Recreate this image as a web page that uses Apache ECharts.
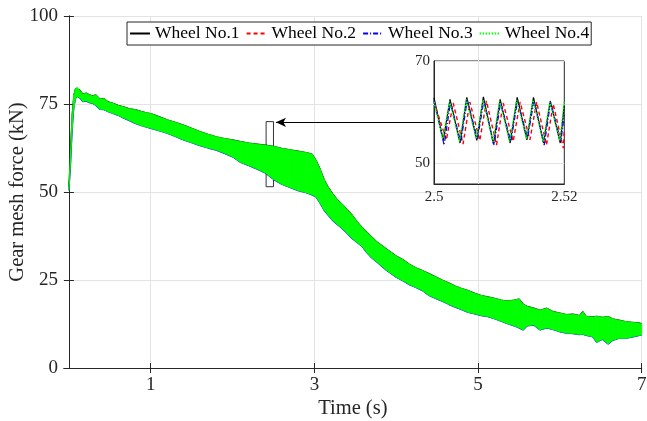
<!DOCTYPE html>
<html>
<head>
<meta charset="utf-8">
<script src="https://cdn.jsdelivr.net/npm/echarts@6.0.0/dist/echarts.min.js"></script>
<style>
html,body{margin:0;padding:0;background:#fff;}
#main{width:647px;height:421px;}
</style>
</head>
<body>
<div id="main"></div>
<script>
// envelope of the dense oscillating traces
var envT = [0,0.02,0.04,0.06,0.08,0.10,0.13,0.17,0.21,0.25,0.29,0.33,0.38,0.43,0.48,0.54,0.60,0.67,0.74,0.81,0.88,0.95,1.0,1.1,1.2,1.3,1.4,1.5,1.6,1.7,1.8,1.9,2.0,2.1,2.2,2.3,2.4,2.5,2.6,2.7,2.8,2.9,2.97,3.02,3.07,3.12,3.17,3.22,3.28,3.34,3.40,3.46,3.52,3.58,3.64,3.70,3.76,3.82,3.88,3.94,4.0,4.08,4.16,4.24,4.32,4.40,4.48,4.56,4.64,4.72,4.80,4.88,4.96,5.04,5.12,5.20,5.28,5.36,5.44,5.50,5.55,5.60,5.68,5.76,5.84,5.92,6.0,6.08,6.16,6.24,6.28,6.32,6.40,6.45,6.52,6.59,6.64,6.72,6.80,6.88,6.96,7.0];
var envUpper = [51.5,62,72,77.5,79.3,79.7,79,77.8,78.1,77.6,77.3,77.6,76.4,76.5,75.6,75.2,74.6,74.2,73.6,73.4,72.9,72.5,72.3,71.4,70.5,69.8,69.0,68.1,67.2,66.4,65.7,65.2,64.8,64.3,63.9,63.6,63.3,63.0,62.4,62.0,61.6,61.2,60.8,59.0,56.5,53.5,51.3,49.6,47.8,46.5,45.0,43.5,41.6,40.0,38.6,37.2,35.9,34.9,33.8,32.8,31.8,30.8,29.5,28.5,27.7,26.8,25.9,25.0,24.2,23.3,22.6,22.0,21.2,20.6,20.2,19.8,19.3,19.0,19.3,19.6,18.2,17.5,17.0,16.4,17.0,16.0,15.6,15.2,15.3,14.9,16.0,14.7,14.5,14.7,14.4,14.6,14.0,13.6,13.2,13.0,12.8,12.6];
var envLower = [50.5,58,68,74,76.5,77.2,76.8,75.7,75.9,75.4,75.2,74.6,73.5,73.4,72.8,72.3,71.8,71.0,70.3,69.5,68.9,68.4,68.1,67.4,66.7,65.8,64.8,64.0,63.2,62.5,61.9,61.0,60.0,58.4,57.5,56.5,55.4,53.6,52.2,51.3,50.4,49.8,49.2,48.6,46.8,44.8,43.4,42.0,40.8,39.6,38.3,36.8,35.7,34.6,32.8,31.3,30.2,29.0,27.8,26.8,25.8,24.8,23.7,22.9,22.0,20.6,19.8,19.0,18.1,17.3,16.6,15.8,15.4,14.9,14.6,14.0,13.3,12.6,12.0,11.4,10.8,12.0,12.2,10.8,11.4,10.9,10.3,9.9,9.8,9.5,9.6,9.3,8.9,7.3,8.2,6.8,7.8,8.4,8.4,8.8,9.2,9.4];

// zoomed window 2.5 - 2.52 s
var w1T = [2.5,2.50143,2.50246,2.5040,2.50503,2.50657,2.50758,2.50912,2.51015,2.51169,2.51277,2.51426,2.51527,2.51681,2.51784,2.51938,2.52];
var w1F = [62.8,54.5,62.5,54.0,62.9,54.5,63.0,53.8,62.5,54.0,62.9,54.6,62.9,54.0,62.2,54.0,61.5];
var w2T = [2.5,2.50190,2.50295,2.50446,2.50550,2.50703,2.50805,2.50960,2.51062,2.51215,2.51322,2.51472,2.51575,2.51727,2.51830,2.51985,2.52];
var w2F = [62.0,54.6,61.8,53.8,62.0,54.5,62.2,53.6,61.8,54.3,62.0,54.6,62.0,53.6,61.6,53.0,56.5];
var w3T = [2.5,2.50155,2.50252,2.50412,2.50510,2.50668,2.50765,2.50922,2.51022,2.51180,2.51282,2.51437,2.51535,2.51692,2.51790,2.51948,2.52];
var w3F = [62.3,53.6,61.8,54.2,62.3,54.8,62.3,53.6,61.9,54.3,62.2,55.0,62.3,53.6,61.9,54.3,59.5];
var w4T = [2.5,2.50135,2.50240,2.50392,2.50496,2.50650,2.50752,2.50905,2.51008,2.51162,2.51270,2.51420,2.51520,2.51675,2.51778,2.51932,2.52];
var w4F = [62.0,54.8,62.1,54.3,62.5,54.8,62.4,54.2,62.2,54.3,62.4,54.8,62.4,54.3,62.0,54.5,62.2];

var names = ['Wheel No.1','Wheel No.2','Wheel No.3','Wheel No.4'];
var xTicks = [1,3,5,7];
var insetXTicks = [2.5,2.52];
var insetYTicks = [50,70];
// box drawn round the zoomed window, and start of the pointing arrow
var boxT = [2.41,2.50];
var boxF = [51.5,70];
var arrowFrom = [4.46,69.8];

var font = 'Liberation Serif';
var ink = '#262626';

function pairs(xs,ys){
	var out=[];
	for(var i=0;i<xs.length;i++){
		out.push([xs[i],ys[i]]);
	}
	return out;
}

var envData=[];
for(var i=0;i<envT.length;i++){
	envData.push([envT[i],envUpper[i],envLower[i]]);
}

// one filled quad between neighbouring envelope samples
function renderBand(params,api){
	var i=params.dataIndexInside;
	if(i>=params.dataInsideLength-1){
		return null;
	}
	var a=api.coord([api.value(0,i),api.value(1,i)]);
	var b=api.coord([api.value(0,i+1),api.value(1,i+1)]);
	var c=api.coord([api.value(0,i+1),api.value(2,i+1)]);
	var d=api.coord([api.value(0,i),api.value(2,i)]);
	return {
		type:'polygon',
		shape:{points:[a,b,c,d]},
		style:{fill:'#00ff00',stroke:'#00ff00',lineWidth:0.8}
	};
}

var myChart=echarts.init(document.getElementById('main'),null,{renderer:'canvas'});

var option={
	animation:false,
	backgroundColor:'#fff',
	legend:{
		data:names,
		left:127,top:22,
		itemWidth:20,itemHeight:12,itemGap:6,
		padding:[2,2],
		backgroundColor:'#fff',
		borderColor:ink,borderWidth:1,
		itemStyle:{opacity:0},
		textStyle:{fontFamily:font,fontSize:17.5,color:'#000',lineHeight:19},
		selectedMode:false
	},
	grid:[
		{left:64,right:5.3,top:16,bottom:53,outerBoundsMode:'none',containLabel:false},
		{left:434,top:61,width:130.3,height:123,outerBoundsMode:'none',containLabel:false,
		 show:true,borderColor:ink,borderWidth:1,backgroundColor:'transparent'}
	],
	xAxis:[
		{type:'value',gridIndex:0,min:-0.06,max:7,
		 name:'Time (s)',nameLocation:'middle',nameGap:30,nameMoveOverlap:false,
		 nameTextStyle:{fontFamily:font,fontSize:20.5,color:ink},
		 axisLine:{show:true,lineStyle:{color:ink}},
		 axisTick:{show:true,inside:true,length:5,customValues:xTicks,lineStyle:{color:ink}},
		 axisLabel:{customValues:xTicks,fontFamily:font,fontSize:19,color:ink,margin:8},
		 splitLine:{show:true,lineStyle:{color:'#e3e3e3'}}},
		{type:'value',gridIndex:0,position:'top',min:-0.06,max:7,
		 axisLine:{show:true,lineStyle:{color:ink}},
		 axisTick:{show:true,inside:true,length:5,customValues:xTicks,lineStyle:{color:ink}},
		 axisLabel:{show:false},splitLine:{show:false}},
		{type:'value',gridIndex:1,min:2.5,max:2.52,
		 axisLine:{show:true,lineStyle:{color:ink}},
		 axisTick:{show:false,customValues:insetXTicks},
		 axisLabel:{customValues:insetXTicks,fontFamily:font,fontSize:15,color:ink,margin:6},
		 splitLine:{show:false}}
	],
	yAxis:[
		{type:'value',gridIndex:0,min:0,max:100,interval:25,
		 name:'Gear mesh force (kN)',nameLocation:'middle',nameGap:36,nameMoveOverlap:false,
		 nameTextStyle:{fontFamily:font,fontSize:20.5,color:ink},
		 axisLine:{show:true,lineStyle:{color:ink}},
		 axisTick:{show:true,inside:true,length:5,lineStyle:{color:ink}},
		 axisLabel:{fontFamily:font,fontSize:19,color:ink,margin:6},
		 splitLine:{show:true,lineStyle:{color:'#e3e3e3'}}},
		{type:'value',gridIndex:0,position:'right',min:0,max:100,interval:25,
		 axisLine:{show:true,lineStyle:{color:ink}},
		 axisTick:{show:true,inside:true,length:5,lineStyle:{color:ink}},
		 axisLabel:{show:false},splitLine:{show:false}},
		{type:'value',gridIndex:1,min:46,max:70,
		 axisLine:{show:true,lineStyle:{color:ink}},
		 axisTick:{show:false,customValues:insetYTicks},
		 axisLabel:{customValues:insetYTicks,fontFamily:font,fontSize:15,color:ink,margin:4},
		 splitLine:{show:true,lineStyle:{color:'#e3e3e3'}}}
	],
	series:[
		{name:'edgeLow',type:'line',xAxisIndex:0,yAxisIndex:0,symbol:'none',silent:true,z:1,
		 data:pairs(envT,envLower),lineStyle:{color:'#0000ff',width:1.3}},
		{name:'edgeUp',type:'line',xAxisIndex:0,yAxisIndex:0,symbol:'none',silent:true,z:1,
		 data:pairs(envT,envUpper),lineStyle:{color:'#000000',width:1.2}},
		{name:'band',type:'custom',xAxisIndex:0,yAxisIndex:0,silent:true,z:2,
		 renderItem:renderBand,data:envData,encode:{x:0,y:[1,2]}},
		{name:'marks',type:'line',xAxisIndex:0,yAxisIndex:0,data:[],symbol:'none',silent:true,z:5,
		 markArea:{silent:true,itemStyle:{color:'rgba(0,0,0,0)',borderColor:'#333',borderWidth:1},
			data:[[{coord:[boxT[0],boxF[0]]},{coord:[boxT[1],boxF[1]]}]]},
		 markLine:{silent:true,symbol:['none','arrow'],symbolSize:[7,10],label:{show:false},
			lineStyle:{color:'#000',width:1,type:'solid'},
			data:[[{coord:arrowFrom},{coord:[boxT[1]+0.03,arrowFrom[1]]}]]}},
		{name:names[0],type:'line',xAxisIndex:2,yAxisIndex:2,symbol:'none',data:pairs(w1T,w1F),
		 lineStyle:{color:'#000000',width:1.2,type:'solid'},itemStyle:{color:'#000000'},z:6},
		{name:names[1],type:'line',xAxisIndex:2,yAxisIndex:2,symbol:'none',data:pairs(w2T,w2F),
		 lineStyle:{color:'#ff0000',width:1.4,type:[4,3]},itemStyle:{color:'#ff0000'},z:7},
		{name:names[2],type:'line',xAxisIndex:2,yAxisIndex:2,symbol:'none',data:pairs(w3T,w3F),
		 lineStyle:{color:'#0000ff',width:1.2,type:[5,2,1,2]},itemStyle:{color:'#0000ff'},z:8},
		{name:names[3],type:'line',xAxisIndex:2,yAxisIndex:2,symbol:'none',data:pairs(w4T,w4F),
		 lineStyle:{color:'#00ff00',width:1.4,type:[1.5,1.5]},itemStyle:{color:'#00ff00'},z:9}
	]
};
myChart.setOption(option);
</script>
</body>
</html>
